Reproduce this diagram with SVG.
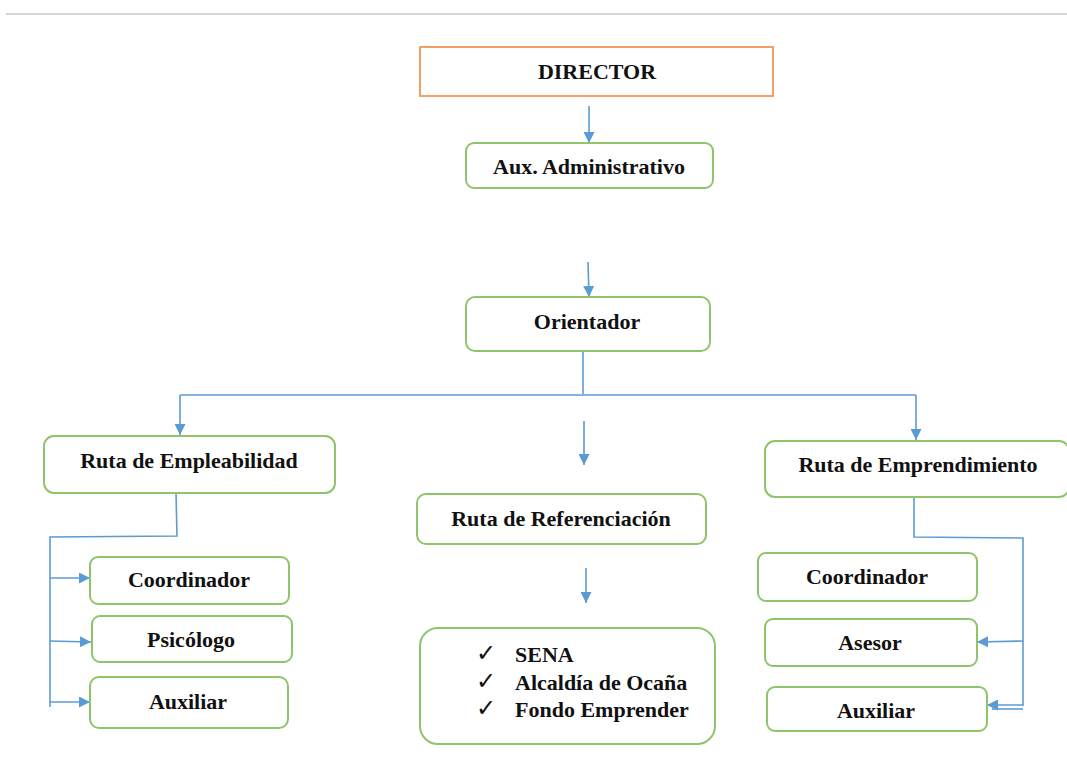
<svg xmlns="http://www.w3.org/2000/svg" width="1067" height="763" viewBox="0 0 1067 763">
<style>
.box{fill:#fff;stroke:#8FC46A;stroke-width:2}
.dir{fill:#fff;stroke:#F0A06A;stroke-width:2}
.t{font-family:"Liberation Serif","Times New Roman",serif;font-weight:bold;font-size:22px;fill:#111;text-anchor:middle}
.l{font-family:"Liberation Serif","Times New Roman",serif;font-weight:bold;font-size:22px;fill:#111}
.ck{font-family:"DejaVu Sans",sans-serif;font-weight:normal;font-size:24px;fill:#111}
.c{fill:none;stroke:#5B9BD5;stroke-width:1.6}
.a{marker-end:url(#ah)}
</style>
<defs>
<marker id="ah" viewBox="0 0 10 10" refX="10" refY="5" markerWidth="11" markerHeight="11" markerUnits="userSpaceOnUse" orient="auto">
<path d="M0,0 L10,5 L0,10 z" fill="#5B9BD5"/>
</marker>
</defs>
<line x1="6" y1="14" x2="1067" y2="14" stroke="#C8C8C8" stroke-width="1.5"/>
<g id="connectors">
<line class="c a" x1="589" y1="106" x2="589" y2="143"/>
<line class="c a" x1="588" y1="262" x2="589" y2="297"/>
<polyline class="c" points="583,351 583,394"/>
<polyline class="c" points="180,395 916,395"/>
<line class="c a" x1="180" y1="395" x2="180" y2="435"/>
<line class="c a" x1="916" y1="395" x2="916" y2="440"/>
<line class="c a" x1="584" y1="421" x2="584" y2="465"/>
<line class="c a" x1="586" y1="568" x2="586" y2="603"/>
<polyline class="c" points="176,493 177,536 50,537 50,707"/>
<line class="c a" x1="50" y1="578" x2="90" y2="578"/>
<line class="c a" x1="50" y1="641" x2="91" y2="642"/>
<line class="c a" x1="50" y1="702" x2="90" y2="702"/>
<polyline class="c" points="914,497 914,537 1023,538 1023,706"/>
<line class="c a" x1="1023" y1="641" x2="977" y2="642"/>
<line class="c a" x1="1023" y1="705" x2="987" y2="705"/>
<line class="c" x1="1023" y1="709" x2="992" y2="709"/>
</g>
<g id="director"><rect class="dir" x="420" y="47" width="353" height="49"/><text class="t" x="597" y="79">DIRECTOR</text></g>
<g id="aux-admin"><rect class="box" x="466" y="143" width="247" height="45" rx="8"/><text class="t" x="589" y="174">Aux. Administrativo</text></g>
<g id="orientador"><rect class="box" x="466" y="297" width="244" height="54" rx="9"/><text class="t" x="587" y="329">Orientador</text></g>
<g id="ruta-empleabilidad"><rect class="box" x="44" y="436" width="291" height="57" rx="10"/><text class="t" x="189" y="468">Ruta de Empleabilidad</text></g>
<g id="ruta-referenciacion"><rect class="box" x="417" y="494" width="289" height="50" rx="9"/><text class="t" x="561" y="526">Ruta de Referenciación</text></g>
<g id="ruta-emprendimiento"><rect class="box" x="765" y="441" width="304" height="56" rx="10"/><text class="t" x="918" y="472">Ruta de Emprendimiento</text></g>
<g id="coordinador-1"><rect class="box" x="90" y="557" width="199" height="47" rx="8"/><text class="t" x="189" y="587">Coordinador</text></g>
<g id="psicologo"><rect class="box" x="92" y="616" width="200" height="46" rx="8"/><text class="t" x="191" y="647">Psicólogo</text></g>
<g id="auxiliar-1"><rect class="box" x="90" y="677" width="198" height="51" rx="9"/><text class="t" x="188" y="709">Auxiliar</text></g>
<g id="referencias"><rect class="box" x="420" y="628" width="295" height="116" rx="18"/>
<text class="ck" x="476" y="661">✓</text><text class="l" x="515" y="662">SENA</text>
<text class="ck" x="476" y="689">✓</text><text class="l" x="515" y="690">Alcaldía de Ocaña</text>
<text class="ck" x="476" y="716">✓</text><text class="l" x="515" y="717">Fondo Emprender</text>
</g>
<g id="coordinador-2"><rect class="box" x="758" y="553" width="219" height="48" rx="8"/><text class="t" x="867" y="584">Coordinador</text></g>
<g id="asesor"><rect class="box" x="765" y="619" width="212" height="47" rx="8"/><text class="t" x="870" y="650">Asesor</text></g>
<g id="auxiliar-2"><rect class="box" x="767" y="687" width="220" height="44" rx="8"/><text class="t" x="876" y="718">Auxiliar</text></g>
</svg>
